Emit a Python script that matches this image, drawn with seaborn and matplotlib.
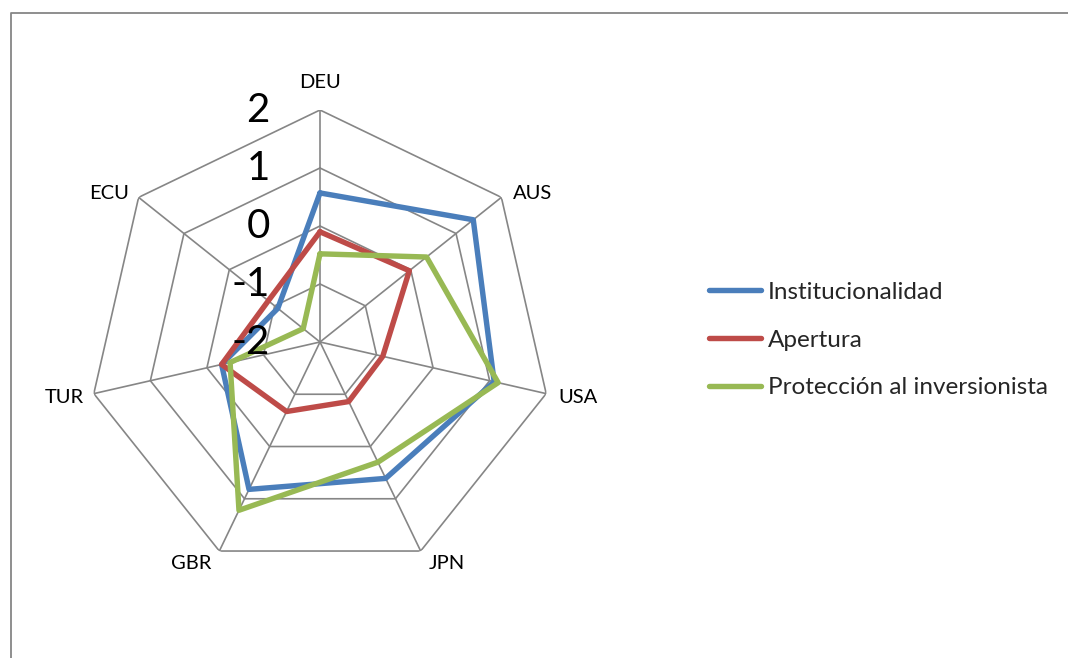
"""
Radar chart: Institucionalidad, Apertura y Protección al inversionista.
"""
import matplotlib
matplotlib.use("Agg")
import matplotlib.pyplot as plt
from matplotlib.lines import Line2D
import numpy as np
import pandas as pd
import seaborn as sns

paises = ["DEU", "AUS", "USA", "JPN", "GBR", "TUR", "ECU"]
series = ["Institucionalidad", "Apertura", "Protección al inversionista"]
institucionalidad = [0.57, 1.38, 1.08, 0.61, 0.82, -0.26, -1.07]
apertura = [-0.10, -0.03, -0.89, -0.86, -0.67, -0.26, -0.86]
proteccion = [-0.48, 0.35, 1.15, 0.30, 1.22, -0.41, -1.63]
anillos = [-2, -1, 0, 1, 2]
colores = ["#4a7ebb", "#be4b48", "#98b954"]

W, H = 1068, 658
GRIS = "#868686"


def build_frame():
    """Long table with each polygon closed by repeating its first point."""
    n = len(paises)
    theta = np.linspace(0, 2 * np.pi, n, endpoint=False)
    filas = []
    for nombre, vals in zip(series, [institucionalidad, apertura, proteccion]):
        for i in list(range(n)) + [0]:
            filas.append({"serie": nombre, "theta": theta[i],
                          "valor": vals[i]})
    return pd.DataFrame(filas), theta


def main():
    sns.set_theme(style="white")
    plt.rcParams["font.family"] = ["Lato", "DejaVu Sans"]
    df, theta = build_frame()

    fig = plt.figure(figsize=(W / 100, H / 100), dpi=100)
    cx, cy, rad = 320, 342, 232
    ax = fig.add_axes([(cx - rad) / W, 1 - (cy + rad) / H,
                       2 * rad / W, 2 * rad / H], projection="polar")
    ax.set_theta_zero_location("N")
    ax.set_theta_direction(-1)
    ax.set_ylim(anillos[0], anillos[-1])
    ax.grid(False)
    ax.spines["polar"].set_visible(False)
    ax.set_xticks([])
    ax.set_yticks([])
    ax.patch.set_alpha(0)

    # polygon grid and spokes
    cerrado = list(theta) + [theta[0]]
    for r in anillos[1:]:
        ax.plot(cerrado, [r] * len(cerrado), color=GRIS, lw=1.2, zorder=1)
    for t in theta:
        ax.plot([t, t], [anillos[0], anillos[-1]], color=GRIS, lw=1.2,
                zorder=1)

    sns.lineplot(data=df, x="theta", y="valor", hue="serie", sort=False,
                 units="serie", estimator=None, palette=colores,
                 linewidth=3.9, legend=False, ax=ax, zorder=3)
    ax.set_xlabel("")
    ax.set_ylabel("")

    # radial tick labels along the DEU spoke
    for r in anillos:
        ax.annotate(str(r), xy=(0, r), xytext=(-50, 0),
                    textcoords="offset pixels", ha="right", va="center",
                    fontsize=29, color="black", zorder=4)

    # category labels
    offsets = {"DEU": (0, 28, "center", "center"),
               "AUS": (12, 4, "left", "center"),
               "USA": (12, -4, "left", "center"),
               "JPN": (8, -12, "left", "center"),
               "GBR": (-8, -12, "right", "center"),
               "TUR": (-10, -4, "right", "center"),
               "ECU": (-10, 4, "right", "center")}
    for t, p in zip(theta, paises):
        dx, dy, ha, va = offsets[p]
        ax.annotate(p, xy=(t, anillos[-1]), xytext=(dx, dy),
                    textcoords="offset pixels", ha=ha, va=va,
                    fontsize=14.5, color="black", annotation_clip=False)

    handles = [Line2D([], [], color=c, lw=3.9, solid_capstyle="round")
               for c in colores]
    fig.legend(handles, series, loc="center left",
               bbox_to_anchor=(709 / W, 1 - 340 / H), frameon=False,
               fontsize=17.5, handlelength=2.15, handletextpad=0.28,
               labelspacing=1.1, borderpad=0, borderaxespad=0)

    # outer chart border (top and left visible)
    fig.add_artist(Line2D([10.5 / W, 10.5 / W, 1.0], [0.0, 1 - 13 / H,
                                                        1 - 13 / H],
                          transform=fig.transFigure, color=GRIS, lw=1.3))

    fig.savefig("out.png", dpi=100, facecolor="white")


if __name__ == "__main__":
    main()
